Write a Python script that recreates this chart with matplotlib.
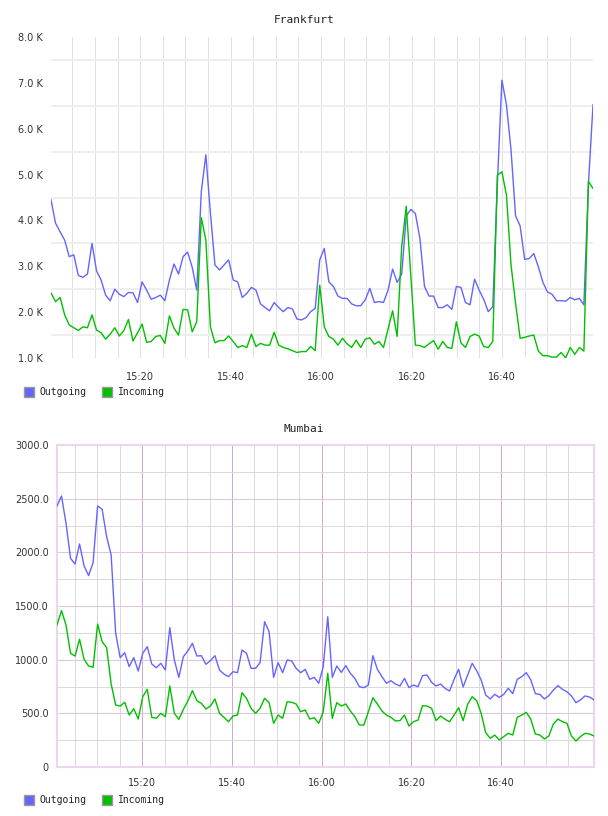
import numpy as np
import matplotlib
matplotlib.use('Agg')
import matplotlib.pyplot as plt
from matplotlib.ticker import FixedLocator, FuncFormatter
from matplotlib.patches import Rectangle

# Frankfurt traffic, in K
frankfurt_out = [4.45, 3.94, 3.75, 3.57, 3.21, 3.25, 2.80, 2.76, 2.83, 3.50,
                 2.90, 2.70, 2.37, 2.25, 2.50, 2.39, 2.34, 2.43, 2.42, 2.21,
                 2.66, 2.48, 2.28, 2.32, 2.37, 2.25, 2.70, 3.05, 2.83, 3.21,
                 3.31, 2.98, 2.48, 4.63, 5.43, 4.16, 3.03, 2.92, 3.03, 3.14,
                 2.70, 2.66, 2.32, 2.41, 2.54, 2.48, 2.18, 2.10, 2.03, 2.21,
                 2.10, 2.01, 2.10, 2.07, 1.85, 1.83, 1.88, 2.01, 2.08,
                 3.14, 3.39, 2.66, 2.56, 2.35, 2.30, 2.30, 2.18, 2.14, 2.14,
                 2.27, 2.52, 2.21, 2.23, 2.21, 2.48, 2.94, 2.65, 2.83, 4.10,
                 4.24, 4.15, 3.61, 2.56, 2.35, 2.35, 2.10, 2.10, 2.16, 2.06,
                 2.56, 2.54, 2.21, 2.16, 2.72, 2.48, 2.28, 2.01, 2.12, 4.80,
                 7.06, 6.52, 5.54, 4.10, 3.88, 3.15, 3.17, 3.28, 2.99, 2.65,
                 2.44, 2.39, 2.25, 2.25, 2.24, 2.32, 2.27, 2.30, 2.16, 4.80,
                 6.52]
frankfurt_in = [2.42, 2.23, 2.32, 1.94, 1.72, 1.66, 1.60, 1.68, 1.66, 1.94,
                1.61, 1.55, 1.41, 1.52, 1.66, 1.48, 1.60, 1.84, 1.37, 1.55,
                1.74, 1.34, 1.36, 1.47, 1.49, 1.32, 1.92, 1.65, 1.50, 2.06,
                2.05, 1.57, 1.79, 4.06, 3.57, 1.68, 1.33, 1.38, 1.38, 1.48,
                1.36, 1.23, 1.27, 1.23, 1.52, 1.25, 1.32, 1.28, 1.28, 1.56,
                1.28, 1.23, 1.20, 1.16, 1.12, 1.14, 1.14, 1.25, 1.16,
                2.59, 1.68, 1.47, 1.41, 1.28, 1.43, 1.31, 1.23, 1.39, 1.23,
                1.41, 1.44, 1.30, 1.36, 1.23, 1.63, 2.03, 1.47, 3.43, 4.31,
                2.80, 1.28, 1.27, 1.23, 1.31, 1.38, 1.19, 1.36, 1.23, 1.21,
                1.79, 1.33, 1.23, 1.47, 1.52, 1.48, 1.25, 1.23, 1.36, 4.99,
                5.06, 4.55, 3.03, 2.19, 1.43, 1.45, 1.48, 1.50, 1.15, 1.05,
                1.05, 1.02, 1.02, 1.12, 1.00, 1.23, 1.08, 1.23, 1.15, 4.85,
                4.70]

# Mumbai traffic
mumbai_out = [2432, 2525, 2270, 1944, 1891, 2078, 1873, 1783, 1904, 2432,
              2401, 2146, 1975, 1245, 1019, 1065, 935, 1019, 894, 1059,
              1121, 960, 925, 966, 904, 1298, 997, 835, 1028, 1081,
              1152, 1034, 1037, 957, 991, 1037, 904, 866, 842, 888,
              879, 1090, 1059, 919, 919, 972, 1354, 1261, 835, 972,
              879, 997, 988, 919, 879, 910, 817, 835,
              780, 935, 1400, 835, 941, 882, 944, 873, 826, 748,
              739, 764, 1037, 910, 842, 780, 804, 773, 755, 826,
              739, 764, 748, 851, 857, 789, 755, 773, 733, 708,
              817, 910, 745, 857, 966, 897, 811, 671, 634, 677,
              649, 677, 733, 683, 817, 842, 879, 811, 683, 677,
              634, 665, 717, 758, 724, 701, 662, 599, 625, 662,
              652, 625]
mumbai_in = [1323, 1457, 1323, 1059, 1034, 1190, 1003, 941, 929, 1332,
             1168, 1112, 773, 578, 568, 603, 484, 543, 447, 655,
             724, 463, 454, 500, 469, 755, 500, 444, 537, 615,
             711, 618, 593, 540, 568, 634, 500, 463, 422, 475,
             484, 692, 640, 547, 500, 547, 640, 599, 407, 484,
             454, 608, 603, 587, 515, 531, 447, 459,
             407, 515, 873, 454, 599, 568, 587, 522, 469, 391,
             391, 515, 646, 587, 522, 484, 463, 429, 432, 484,
             382, 422, 437, 571, 568, 547, 432, 475, 444, 422,
             484, 553, 432, 584, 655, 618, 500, 320, 267, 298,
             252, 283, 314, 298, 463, 484, 510, 444, 307, 298,
             261, 289, 401, 447, 422, 407, 289, 242, 283, 314,
             307, 289]

# minutes after 15:00 of first / last sample
frankfurt_span = (0.3, 120.1)
mumbai_span = (1.0, 120.7)
label_minutes = [20, 40, 60, 80, 100]
grid_minutes = [m for m in range(5, 120, 5) if m not in label_minutes]

series_names = ['Outgoing', 'Incoming']
out_color = '#6464ff'
in_color = '#00c000'

W, H = 608, 816
PX = 0.72  # one pixel in points at 100 dpi


def fig_box(x0, y0, x1, y1):
    # pixel box -> figure fraction rect
    return [x0 / W, 1 - y1 / H, (x1 - x0) / W, (y1 - y0) / H]


def clock(m, pos=None):
    m = int(round(m))
    return '%d:%02d' % (15 + m // 60, m % 60)


def draw_legend(fig, y):
    xs = [(24, 39), (102, 118)]
    for (sx, tx), name, col in zip(xs, series_names, [out_color, in_color]):
        r = Rectangle((sx / W, 1 - (y + 5) / H), 10 / W, 10 / H,
                      transform=fig.transFigure, facecolor=col,
                      edgecolor='#999999', lw=1)
        fig.add_artist(r)
        fig.text(tx / W, 1 - y / H, name, fontsize=7, family='DejaVu Sans Mono',
                 va='center', ha='left', color='#222222')


fig = plt.figure(figsize=(6.08, 8.16), dpi=100)
fig.patch.set_facecolor('white')

# ---- Frankfurt
ax1 = fig.add_axes(fig_box(51, 37, 593, 358))
t1 = np.linspace(frankfurt_span[0], frankfurt_span[1], len(frankfurt_out))
ax1.plot(t1, frankfurt_out, color=out_color, lw=1.0, zorder=3)
ax1.plot(t1, frankfurt_in, color=in_color, lw=1.0, zorder=3)
ax1.set_xlim(frankfurt_span)
ax1.set_ylim(1.0, 8.0)
ax1.xaxis.set_major_locator(FixedLocator(label_minutes))
ax1.xaxis.set_minor_locator(FixedLocator(grid_minutes))
ax1.xaxis.set_major_formatter(FuncFormatter(clock))
ax1.yaxis.set_major_locator(FixedLocator(np.arange(1, 9)))
ax1.yaxis.set_minor_locator(FixedLocator(np.arange(1.5, 8, 1.0)))
ax1.yaxis.set_major_formatter(FuncFormatter(lambda v, p: '%.1f K' % v))
ax1.grid(True, axis='x', which='both', color='#e0e0e0', lw=PX)
ax1.grid(True, axis='y', which='minor', color='#eeeeee', lw=2 * PX)
ax1.tick_params(which='both', length=0, labelsize=7, labelcolor='#333333')
ax1.tick_params(axis='y', pad=6)
ax1.tick_params(axis='x', pad=10)
for s in ax1.spines.values():
    s.set_visible(False)
ax1.set_axisbelow(True)
fig.text(0.5, 1 - 20 / H, 'Frankfurt', ha='center', va='center',
         fontsize=8, family='DejaVu Sans Mono', color='#222222')
draw_legend(fig, 392)

# ---- Mumbai
ax2 = fig.add_axes(fig_box(57, 445, 594, 767))
t2 = np.linspace(mumbai_span[0], mumbai_span[1], len(mumbai_out))
ax2.plot(t2, mumbai_out, color=out_color, lw=1.0, zorder=3)
ax2.plot(t2, mumbai_in, color=in_color, lw=1.0, zorder=3)
ax2.set_xlim(mumbai_span)
ax2.set_ylim(0, 3000)
ax2.xaxis.set_major_locator(FixedLocator(label_minutes))
ax2.xaxis.set_minor_locator(FixedLocator(grid_minutes))
ax2.xaxis.set_major_formatter(FuncFormatter(clock))
ax2.yaxis.set_major_locator(FixedLocator(np.arange(0, 3001, 500)))
ax2.yaxis.set_minor_locator(FixedLocator(np.arange(250, 3000, 500)))
ax2.yaxis.set_major_formatter(FuncFormatter(lambda v, p: '0' if v == 0 else '%.1f' % v))
ax2.grid(True, axis='x', which='major', color='#d2a8d2', lw=PX)
ax2.grid(True, axis='x', which='minor', color='#dcd8dc', lw=PX)
ax2.grid(True, axis='y', which='major', color='#e2c4e2', lw=PX)
ax2.grid(True, axis='y', which='minor', color='#dadada', lw=PX)
ax2.tick_params(which='both', length=0, labelsize=7, labelcolor='#333333')
ax2.tick_params(axis='y', pad=6)
ax2.tick_params(axis='x', pad=8)
for s in ax2.spines.values():
    s.set_color('#ecd6ec')
    s.set_linewidth(1.5)
ax2.set_axisbelow(True)
fig.text(0.5, 1 - 429 / H, 'Mumbai', ha='center', va='center',
         fontsize=8, family='DejaVu Sans Mono', color='#222222')
draw_legend(fig, 800)

fig.savefig('out.png', dpi=100, facecolor='white')
